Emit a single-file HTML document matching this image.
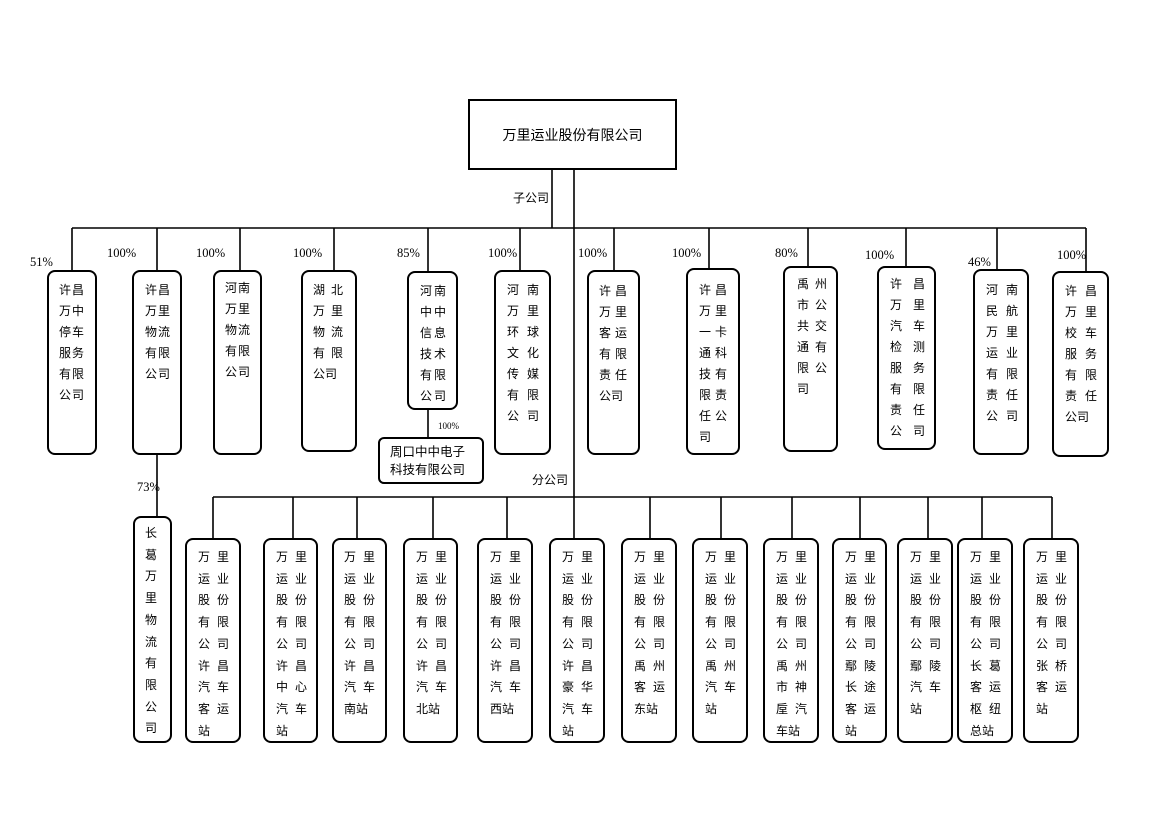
<!DOCTYPE html>
<html><head><meta charset="utf-8">
<style>
body{margin:0;width:1170px;height:827px;background:#fff;position:relative;overflow:hidden;font-family:"Liberation Serif","Noto Serif CJK SC","Noto Sans CJK SC",serif;color:#000}
.b{position:absolute;border:2px solid #000;border-radius:8px;box-sizing:border-box;background:#fff}
.t{position:absolute;font-family:"Noto Sans CJK SC","WenQuanYi Zen Hei",sans-serif;font-size:12px;line-height:21px;white-space:nowrap}
.u{line-height:21.7px}
.p{position:absolute;font-size:12.5px;line-height:14px;white-space:nowrap}
.z{letter-spacing:0}
</style></head><body>
<svg width="1170" height="827" style="position:absolute;left:0;top:0" stroke="#000" stroke-width="1.6" fill="none">
<line x1="552" y1="170" x2="552" y2="228"/>
<line x1="574" y1="170" x2="574" y2="538"/>
<line x1="72" y1="228" x2="1086" y2="228"/>
<line x1="72" y1="228" x2="72" y2="270"/>
<line x1="157" y1="228" x2="157" y2="270"/>
<line x1="240" y1="228" x2="240" y2="270"/>
<line x1="334" y1="228" x2="334" y2="270"/>
<line x1="428" y1="228" x2="428" y2="271"/>
<line x1="520" y1="228" x2="520" y2="270"/>
<line x1="614" y1="228" x2="614" y2="270"/>
<line x1="709" y1="228" x2="709" y2="268"/>
<line x1="808" y1="228" x2="808" y2="266"/>
<line x1="906" y1="228" x2="906" y2="266"/>
<line x1="997" y1="228" x2="997" y2="269"/>
<line x1="1086" y1="228" x2="1086" y2="271"/>
<line x1="428" y1="410" x2="428" y2="437"/>
<line x1="157" y1="455" x2="157" y2="516"/>
<line x1="213" y1="497" x2="1052" y2="497"/>
<line x1="213" y1="497" x2="213" y2="538"/>
<line x1="293" y1="497" x2="293" y2="538"/>
<line x1="357" y1="497" x2="357" y2="538"/>
<line x1="433" y1="497" x2="433" y2="538"/>
<line x1="507" y1="497" x2="507" y2="538"/>
<line x1="650" y1="497" x2="650" y2="538"/>
<line x1="721" y1="497" x2="721" y2="538"/>
<line x1="792" y1="497" x2="792" y2="538"/>
<line x1="860" y1="497" x2="860" y2="538"/>
<line x1="928" y1="497" x2="928" y2="538"/>
<line x1="982" y1="497" x2="982" y2="538"/>
<line x1="1052" y1="497" x2="1052" y2="538"/>
</svg>

<div style="position:absolute;left:468px;top:99px;width:209px;height:71px;border:2px solid #000;box-sizing:border-box;background:#fff"></div>
<div class="t" style="left:468px;top:126px;width:209px;text-align:center;font-size:14px;line-height:18px">万里运业股份有限公司</div>
<div class="t" style="left:513px;top:191px;font-size:12px;line-height:14px">子公司</div>
<div class="t" style="left:532px;top:473px;font-size:12px;line-height:14px">分公司</div>

<div class="p" style="left:30px;top:255px">51%</div>
<div class="p" style="left:107px;top:246px">100%</div>
<div class="p" style="left:196px;top:246px">100%</div>
<div class="p" style="left:293px;top:246px">100%</div>
<div class="p" style="left:397px;top:246px">85%</div>
<div class="p" style="left:488px;top:246px">100%</div>
<div class="p" style="left:578px;top:246px">100%</div>
<div class="p" style="left:672px;top:246px">100%</div>
<div class="p" style="left:775px;top:246px">80%</div>
<div class="p" style="left:865px;top:248px">100%</div>
<div class="p" style="left:968px;top:255px">46%</div>
<div class="p" style="left:1057px;top:248px">100%</div>
<div class="p" style="left:438px;top:419px;font-size:9px">100%</div>
<div class="p" style="left:137px;top:480px">73%</div>

<!-- top row -->
<div class="b" style="left:47px;top:270px;width:50px;height:185px"></div>
<div class="t" style="left:59px;top:279px;letter-spacing:1px">许昌<br>万中<br>停车<br>服务<br>有限<br>公司</div>
<div class="b" style="left:132px;top:270px;width:50px;height:185px"></div>
<div class="t" style="left:145px;top:279px;letter-spacing:1px">许昌<br>万里<br>物流<br>有限<br>公司</div>
<div class="b" style="left:213px;top:270px;width:49px;height:185px"></div>
<div class="t" style="left:225px;top:277px;letter-spacing:1px">河南<br>万里<br>物流<br>有限<br>公司</div>
<div class="b" style="left:301px;top:270px;width:56px;height:182px"></div>
<div class="t" style="left:313px;top:279px;letter-spacing:6px">湖北<br>万里<br>物流<br>有限<br><span class="z">公司</span></div>
<div class="b" style="left:407px;top:271px;width:51px;height:139px"></div>
<div class="t" style="left:420px;top:280px;letter-spacing:2px">河南<br>中中<br>信息<br>技术<br>有限<br>公司</div>
<div class="b" style="left:378px;top:437px;width:106px;height:47px;border-radius:6px"></div>
<div class="t" style="left:390px;top:442px;font-size:12.5px;line-height:18px">周口中中电子<br>科技有限公司</div>
<div class="b" style="left:494px;top:270px;width:57px;height:185px"></div>
<div class="t" style="left:507px;top:279px;letter-spacing:8px">河南<br>万里<br>环球<br>文化<br>传媒<br>有限<br>公司</div>
<div class="b" style="left:587px;top:270px;width:53px;height:185px"></div>
<div class="t" style="left:599px;top:280px;letter-spacing:4px">许昌<br>万里<br>客运<br>有限<br>责任<br><span class="z">公司</span></div>
<div class="b" style="left:686px;top:268px;width:54px;height:187px"></div>
<div class="t" style="left:699px;top:279px;letter-spacing:4px">许昌<br>万里<br>一卡<br>通科<br>技有<br>限责<br>任公<br>司</div>
<div class="b" style="left:783px;top:266px;width:55px;height:186px"></div>
<div class="t" style="left:797px;top:273px;letter-spacing:6px">禹州<br>市公<br>共交<br>通有<br>限公<br>司</div>
<div class="b" style="left:877px;top:266px;width:59px;height:184px"></div>
<div class="t" style="left:890px;top:273px;letter-spacing:11px">许昌<br>万里<br>汽车<br>检测<br>服务<br>有限<br>责任<br>公司</div>
<div class="b" style="left:973px;top:269px;width:56px;height:186px"></div>
<div class="t" style="left:986px;top:279px;letter-spacing:8px">河南<br>民航<br>万里<br>运业<br>有限<br>责任<br>公司</div>
<div class="b" style="left:1052px;top:271px;width:57px;height:186px"></div>
<div class="t" style="left:1065px;top:280px;letter-spacing:8px">许昌<br>万里<br>校车<br>服务<br>有限<br>责任<br><span class="z">公司</span></div>

<!-- 长葛 -->
<div class="b" style="left:133px;top:516px;width:39px;height:227px"></div>
<div class="t u" style="left:145px;top:522px">长<br>葛<br>万<br>里<br>物<br>流<br>有<br>限<br>公<br>司</div>

<!-- bottom row -->
<div class="b" style="left:185px;top:538px;width:56px;height:205px"></div>
<div class="t u" style="left:198px;top:546px;letter-spacing:7px">万里<br>运业<br>股份<br>有限<br>公司<br>许昌<br>汽车<br>客运<br>站</div>
<div class="b" style="left:263px;top:538px;width:55px;height:205px"></div>
<div class="t u" style="left:276px;top:546px;letter-spacing:7px">万里<br>运业<br>股份<br>有限<br>公司<br>许昌<br>中心<br>汽车<br>站</div>
<div class="b" style="left:332px;top:538px;width:55px;height:205px"></div>
<div class="t u" style="left:344px;top:546px;letter-spacing:7px">万里<br>运业<br>股份<br>有限<br>公司<br>许昌<br>汽车<br><span class="z">南站</span></div>
<div class="b" style="left:403px;top:538px;width:55px;height:205px"></div>
<div class="t u" style="left:416px;top:546px;letter-spacing:7px">万里<br>运业<br>股份<br>有限<br>公司<br>许昌<br>汽车<br><span class="z">北站</span></div>
<div class="b" style="left:477px;top:538px;width:56px;height:205px"></div>
<div class="t u" style="left:490px;top:546px;letter-spacing:7px">万里<br>运业<br>股份<br>有限<br>公司<br>许昌<br>汽车<br><span class="z">西站</span></div>
<div class="b" style="left:549px;top:538px;width:56px;height:205px"></div>
<div class="t u" style="left:562px;top:546px;letter-spacing:7px">万里<br>运业<br>股份<br>有限<br>公司<br>许昌<br>豪华<br>汽车<br>站</div>
<div class="b" style="left:621px;top:538px;width:56px;height:205px"></div>
<div class="t u" style="left:634px;top:546px;letter-spacing:7px">万里<br>运业<br>股份<br>有限<br>公司<br>禹州<br>客运<br><span class="z">东站</span></div>
<div class="b" style="left:692px;top:538px;width:56px;height:205px"></div>
<div class="t u" style="left:705px;top:546px;letter-spacing:7px">万里<br>运业<br>股份<br>有限<br>公司<br>禹州<br>汽车<br>站</div>
<div class="b" style="left:763px;top:538px;width:56px;height:205px"></div>
<div class="t u" style="left:776px;top:546px;letter-spacing:7px">万里<br>运业<br>股份<br>有限<br>公司<br>禹州<br>市神<br>垕汽<br><span class="z">车站</span></div>
<div class="b" style="left:832px;top:538px;width:55px;height:205px"></div>
<div class="t u" style="left:845px;top:546px;letter-spacing:7px">万里<br>运业<br>股份<br>有限<br>公司<br>鄢陵<br>长途<br>客运<br>站</div>
<div class="b" style="left:897px;top:538px;width:56px;height:205px"></div>
<div class="t u" style="left:910px;top:546px;letter-spacing:7px">万里<br>运业<br>股份<br>有限<br>公司<br>鄢陵<br>汽车<br>站</div>
<div class="b" style="left:957px;top:538px;width:56px;height:205px"></div>
<div class="t u" style="left:970px;top:546px;letter-spacing:7px">万里<br>运业<br>股份<br>有限<br>公司<br>长葛<br>客运<br>枢纽<br><span class="z">总站</span></div>
<div class="b" style="left:1023px;top:538px;width:56px;height:205px"></div>
<div class="t u" style="left:1036px;top:546px;letter-spacing:7px">万里<br>运业<br>股份<br>有限<br>公司<br>张桥<br>客运<br>站</div>
</body></html>
